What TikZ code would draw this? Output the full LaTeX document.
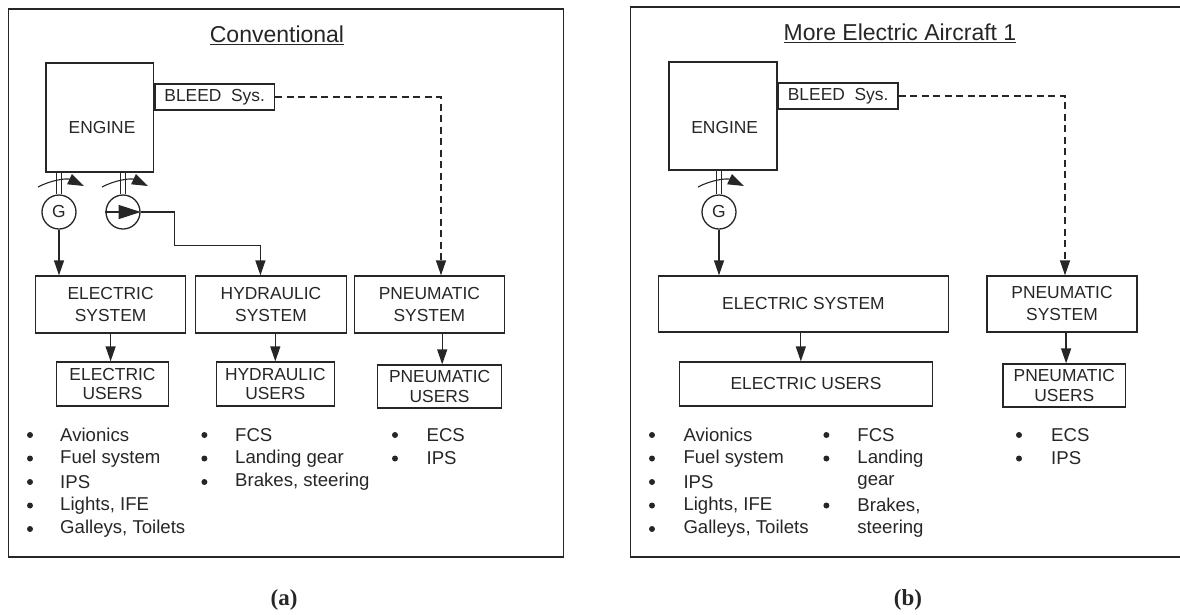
\documentclass[tikz,border=0pt]{standalone}
\usepackage{fontspec}
\setmainfont{Liberation Sans}
\newfontfamily\capfont{Liberation Serif}
\usetikzlibrary{arrows.meta,calc}
\definecolor{ink}{HTML}{262626}
\begin{document}
\begin{tikzpicture}[x=1pt,y=-1pt, color=ink,
  frame/.style={draw=ink, line width=1.5pt},
  box/.style={draw=ink, line width=1.3pt, inner sep=0pt, align=center, text=ink,
              font=\fontsize{17.4}{22}\selectfont},
  ubox/.style={box, font=\fontsize{17.4}{20}\selectfont},
  lbl/.style={inner sep=0pt, text=ink, font=\fontsize{17.4}{20}\selectfont},
  ttl/.style={inner sep=0pt, text=ink, font=\fontsize{23}{26}\selectfont},
  item/.style={inner sep=0pt, anchor=west, text=ink, font=\fontsize{18.6}{22}\selectfont},
  dot/.style={circle, fill=ink, draw=none, inner sep=0pt, minimum size=6pt},
  mach/.style={circle, draw=ink, line width=1.3pt, minimum size=34pt, inner sep=0pt,
               text=ink, font=\fontsize{17.4}{20}\selectfont},
  arr/.style={draw=ink, line width=1.3pt, -{Triangle[length=15pt,width=10pt]}},
  darr/.style={arr, dash pattern=on 7pt off 4.5pt},
  shaft/.style={draw=ink, line width=1.1pt},
  turn/.style={draw=ink, line width=1.1pt, -{Triangle[length=16pt,width=11pt]}},
  figcap/.style={inner sep=0pt, text=ink, font=\capfont\bfseries\fontsize{23}{26}\selectfont}
]
\useasboundingbox (0,0) rectangle (1180,614);
\clip (0,0) rectangle (1180,614);

% ================= Panel (a) =================
\node[frame, minimum width=555pt, minimum height=548pt, inner sep=0pt] (frA) at (285.9,283) {};
\node[ttl] (tA) at (277,35) {\underline{Conventional}};

\node[box, minimum width=107.6pt, minimum height=109pt] (engA) at (99.8,117.5) {};
\node[lbl] (engAt) at (102,128) {ENGINE};
\node[box, minimum width=119.6pt, minimum height=26pt, anchor=west] (blA) at (engA.east |- 0,97) {BLEED\ \ Sys.};

\node[mach] (gA) at (59,212) {G};
\node[mach] (pA) at (123,212) {};

% shafts and speed symbols
\foreach \n in {gA,pA}{
  \draw[shaft] ($(\n.north)+(-2.2,0)$) -- ($(\n.north |- engA.south)+(-2.2,0)$);
  \draw[shaft] ($(\n.north)+(2.2,0)$) -- ($(\n.north |- engA.south)+(2.2,0)$);
  \draw[turn] ($(\n.center)+(-21,-25)$) .. controls ($(\n.center)+(-8,-32)$) and ($(\n.center)+(8,-34)$) .. ($(\n.center)+(25,-26)$);
}
\draw[line width=1.3pt, draw=ink, -{Triangle[length=22pt,width=14pt]}] (pA.west) -- (pA.east);

\node[box, minimum width=149.7pt, minimum height=57pt] (esA) at (110.6,304.5) {ELECTRIC\\SYSTEM};
\node[box, minimum width=150.6pt, minimum height=57pt] (hsA) at (271,304.5) {HYDRAULIC\\SYSTEM};
\node[box, minimum width=149.8pt, minimum height=57pt] (psA) at (429.4,304.5) {PNEUMATIC\\SYSTEM};

\node[ubox, minimum width=112pt, minimum height=44pt] (euA) at (112.5,384) {ELECTRIC\\USERS};
\node[ubox, minimum width=117.8pt, minimum height=44pt] (huA) at (275.3,384) {HYDRAULIC\\USERS};
\node[ubox, minimum width=124.2pt, minimum height=43pt] (puA) at (439.6,386.5) {PNEUMATIC\\USERS};

\draw[arr] (gA.south) -- (gA.south |- esA.north);
\draw[arr] (pA.east) -- ++(34,0) |- ($(hsA.north)+(-10.6,-30)$) -- ($(hsA.north)+(-10.6,0)$);
\draw[darr] (blA.east) -| ($(psA.north)+(11.6,0)$);

\draw[arr] (esA.south) -- (esA.south |- euA.north);
\draw[arr] (hsA.south -| huA.north) -- (huA.north);
\draw[arr] ($(psA.south -| puA.north)+(2.6,0)$) -- ($(puA.north)+(2.6,0)$);

% lists (a)
\foreach \t [count=\i] in {Avionics,Fuel system,IPS,{Lights, IFE},{Galleys, Toilets}}{
  \node[dot] (dA\i) at (30,{435+23.5*(\i-1)}) {};
  \node[item] (iA\i) at (60,{435+23.5*(\i-1)}) {\t};
}
\foreach \t [count=\i] in {FCS,Landing gear,{Brakes, steering}}{
  \node[dot] (dH\i) at (204.4,{435+23.5*(\i-1)}) {};
  \node[item] (iH\i) at (235,{435+23.5*(\i-1)}) {\t};
}
\foreach \t [count=\i] in {ECS,IPS}{
  \node[dot] (dP\i) at (395,{435+23.5*(\i-1)}) {};
  \node[item] (iP\i) at (426.4,{435+23.5*(\i-1)}) {\t};
}
\node[figcap] (cA) at (284,600) {(a)};

% ================= Panel (b) =================
\node[frame, minimum width=559.4pt, minimum height=550pt, inner sep=0pt] (frB) at (910.3,282) {};
\node[ttl] (tB) at (900,33) {\underline{More Electric Aircraft 1}};

\node[box, minimum width=108pt, minimum height=108pt] (engB) at (723,116) {};
\node[lbl] (engBt) at (724.7,128) {ENGINE};
\node[box, minimum width=119.7pt, minimum height=26pt, anchor=west] (blB) at (engB.east |- 0,96) {BLEED\ \ Sys.};

\node[mach] (gB) at (719,212) {G};
\draw[shaft] ($(gB.north)+(-2.2,0)$) -- ($(gB.north |- engB.south)+(-2.2,0)$);
\draw[shaft] ($(gB.north)+(2.2,0)$) -- ($(gB.north |- engB.south)+(2.2,0)$);
\draw[turn] ($(gB.center)+(-21,-25)$) .. controls ($(gB.center)+(-8,-32)$) and ($(gB.center)+(8,-34)$) .. ($(gB.center)+(25,-26)$);

\node[box, minimum width=289.8pt, minimum height=56pt] (esB) at (803.4,304) {ELECTRIC SYSTEM};
\node[box, minimum width=150pt, minimum height=56pt] (psB) at (1062,304) {PNEUMATIC\\SYSTEM};

\node[ubox, minimum width=252.9pt, minimum height=44pt] (euB) at (806,384) {ELECTRIC USERS};
\node[ubox, minimum width=122.7pt, minimum height=43pt] (puB) at (1064.3,385.5) {PNEUMATIC\\USERS};

\draw[arr] (gB.south) -- (gB.south |- esB.north);
\draw[darr] (blB.east) -| ($(psB.north)+(3,0)$);
\draw[arr] ($(esB.south)+(-2.6,0)$) -- ($(esB.south |- euB.north)+(-2.6,0)$);
\draw[arr] ($(psB.south -| puB.north)+(1.8,0)$) -- ($(puB.north)+(1.8,0)$);

% lists (b)
\foreach \t [count=\i] in {Avionics,Fuel system,IPS,{Lights, IFE},{Galleys, Toilets}}{
  \node[dot] (dB\i) at (652,{435+23.5*(\i-1)}) {};
  \node[item] (iB\i) at (683.3,{435+23.5*(\i-1)}) {\t};
}
\foreach \t [count=\i] in {FCS,Landing,gear,{Brakes,},steering}{
  \node[item] (jB\i) at (857.2,{435+23.5*(\i-1)}) {\t};
}
\node[dot] (eB1) at (826.4,435) {};
\node[dot] (eB2) at (826.4,458.5) {};
\node[dot] (eB3) at (826.4,505.5) {};
\foreach \t [count=\i] in {ECS,IPS}{
  \node[dot] (fB\i) at (1019,{435+23.5*(\i-1)}) {};
  \node[item] (kB\i) at (1051,{435+23.5*(\i-1)}) {\t};
}
\node[figcap] (cB) at (908,600) {(b)};
\end{tikzpicture}
\end{document}
